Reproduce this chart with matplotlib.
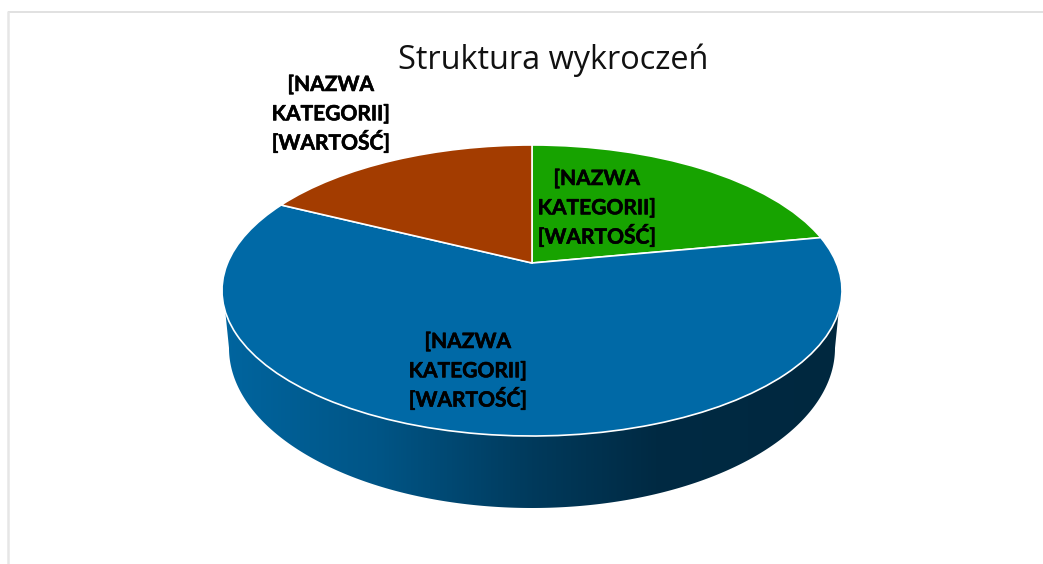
import numpy as np
import matplotlib
matplotlib.use('Agg')
import matplotlib.pyplot as plt
import matplotlib.patheffects as pe
from matplotlib.colors import LinearSegmentedColormap
from matplotlib.patches import Polygon
from matplotlib.transforms import Transform

# dane
title = 'Struktura wykroczeń'
categories = ['zielony', 'niebieski', 'brazowy']
values = [22.0, 60.4, 17.6]
colors = ['#17a300', '#0069a6', '#a33c00']
label_lines = ['[NAZWA', 'KATEGORII]', '[WARTOŚĆ]']
label_x = [597, 468, 331]
label_y = [185, 348, 91]

wall_stops = [0.0, 0.25, 0.5, 0.7, 1.0]
wall_colors = ['#00659f', '#005586', '#003a5c', '#002a43', '#00283f']

# srodek kola, skala i perspektywa (piksele)
CX, CY = 532, 263
A, B, K = 304.4, 140.3, 0.189
# dolna krawedz boku
BOT_Y, BOT_RX, BOT_RY = 348, 303, 160


def project(x, y):
    w = 1 + K * y
    return CX + A * x / w, CY - B * y / w


class Tilt(Transform):
    input_dims = output_dims = 2
    has_inverse = False

    def transform_non_affine(self, values):
        values = np.asarray(values, dtype=float)
        return np.column_stack(project(values[:, 0], values[:, 1]))


fig = plt.figure(figsize=(10.43, 5.64), dpi=100)
ax = fig.add_axes([0, 0, 1, 1])

wedges, _ = ax.pie(values, colors=colors, startangle=90, counterclock=False, frame=False,
                   wedgeprops=dict(edgecolor='white', linewidth=1.2, zorder=3))
for w in wedges:
    w.set_transform(Tilt() + ax.transData)

# bok walca
t_top = np.radians(np.linspace(-19, -161, 300))
t_bot = np.radians(np.linspace(180, 0, 300))
tx, ty = project(np.cos(t_top), np.sin(t_top))
bx = CX + BOT_RX * np.cos(t_bot)
by = BOT_Y + BOT_RY * np.sin(t_bot)
wall = Polygon(np.column_stack([np.r_[tx, bx], np.r_[ty, by]]), closed=True,
               facecolor='none', edgecolor='none', zorder=1)
ax.add_patch(wall)
cmap = LinearSegmentedColormap.from_list('wall', list(zip(wall_stops, wall_colors)))
im = ax.imshow(np.linspace(0, 1, 512)[None, :], cmap=cmap, aspect='auto',
               extent=[222, 842, 520, 280], zorder=2, interpolation='bilinear')
im.set_clip_path(wall)

# ramka
ax.plot([8, 1043], [11.5, 11.5], color='#d9d9d9', lw=1.1, zorder=1, solid_capstyle='butt')
ax.plot([7.5, 7.5], [11, 564], color='#e6e6e6', lw=1.8, zorder=1, solid_capstyle='butt')

ax.set_xlim(0, 1043)
ax.set_ylim(564, 0)
ax.set_aspect('auto')
ax.axis('off')

ax.text(553, 69, title, ha='center', va='baseline', fontsize=23.4, family='Open Sans', color='#111111')
for x, y in zip(label_x, label_y):
    for i, line in enumerate(label_lines):
        ax.text(x, y + i * 29.3, line, ha='center', va='baseline', fontsize=15.1, fontweight='bold',
                family='Lato', color='black', zorder=5,
                path_effects=[pe.withStroke(linewidth=0.4, foreground='black')])

fig.savefig('out.png', dpi=100)
